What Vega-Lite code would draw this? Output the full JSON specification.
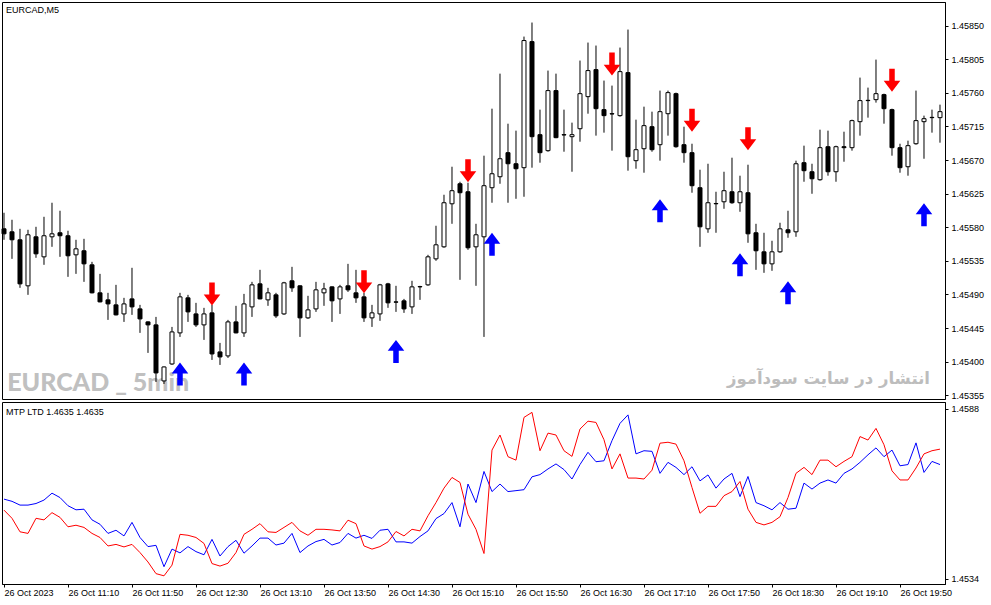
{
  "$schema": "https://vega.github.io/schema/vega-lite/v6.json",
  "background": "#ffffff",
  "padding": {"left": 0, "top": 1, "right": 0, "bottom": 0},
  "spacing": 0,
  "config": {
    "view": {"stroke": "#000000", "strokeWidth": 1},
    "scale": {"continuousPadding": 0},
    "axis": {
      "labelFont": "Liberation Sans", "labelFontSize": 9, "labelColor": "#000000",
      "domainColor": "#000000", "tickColor": "#000000", "grid": false, "title": null,
      "labelFlush": false, "labelOverlap": false
    }
  },
  "datasets": {
    "bars": [
      {"t":"2023-10-26T10:30","o":1.455779,"h":1.455994,"l":1.455632,"c":1.455712,"b":1.45593,"r":1.45558},
      {"t":"2023-10-26T10:35","o":1.455739,"h":1.4559,"l":1.455377,"c":1.455632,"b":1.45586,"r":1.45532},
      {"t":"2023-10-26T10:40","o":1.455632,"h":1.455779,"l":1.454989,"c":1.455042,"b":1.45574,"r":1.45489},
      {"t":"2023-10-26T10:45","o":1.455016,"h":1.455766,"l":1.454895,"c":1.455699,"b":1.45574,"r":1.45484},
      {"t":"2023-10-26T10:50","o":1.455672,"h":1.455806,"l":1.455391,"c":1.455444,"b":1.45579,"r":1.45532},
      {"t":"2023-10-26T10:55","o":1.455404,"h":1.45594,"l":1.455297,"c":1.455686,"b":1.4559,"r":1.45527},
      {"t":"2023-10-26T11:00","o":1.455672,"h":1.456128,"l":1.455538,"c":1.455712,"b":1.45612,"r":1.4555},
      {"t":"2023-10-26T11:05","o":1.455726,"h":1.456021,"l":1.455404,"c":1.455686,"b":1.45598,"r":1.45535},
      {"t":"2023-10-26T11:10","o":1.455686,"h":1.455753,"l":1.455136,"c":1.455418,"b":1.45572,"r":1.45505},
      {"t":"2023-10-26T11:15","o":1.455431,"h":1.455632,"l":1.455176,"c":1.455511,"b":1.45559,"r":1.4551},
      {"t":"2023-10-26T11:20","o":1.455485,"h":1.455645,"l":1.455069,"c":1.45531,"b":1.45561,"r":1.45503},
      {"t":"2023-10-26T11:25","o":1.455297,"h":1.455337,"l":1.454915,"c":1.454922,"b":1.45527,"r":1.45484},
      {"t":"2023-10-26T11:30","o":1.454922,"h":1.455176,"l":1.454795,"c":1.454801,"b":1.45513,"r":1.45471},
      {"t":"2023-10-26T11:35","o":1.454828,"h":1.454922,"l":1.45456,"c":1.454774,"b":1.45484,"r":1.45444},
      {"t":"2023-10-26T11:40","o":1.454761,"h":1.455029,"l":1.45462,"c":1.454627,"b":1.45494,"r":1.45449},
      {"t":"2023-10-26T11:45","o":1.45464,"h":1.454855,"l":1.454533,"c":1.454774,"b":1.45476,"r":1.45441},
      {"t":"2023-10-26T11:50","o":1.454841,"h":1.455257,"l":1.454627,"c":1.454734,"b":1.45519,"r":1.45449},
      {"t":"2023-10-26T11:55","o":1.454707,"h":1.454761,"l":1.454386,"c":1.454573,"b":1.45471,"r":1.45423},
      {"t":"2023-10-26T12:00","o":1.454533,"h":1.45454,"l":1.454118,"c":1.454493,"b":1.45442,"r":1.45393},
      {"t":"2023-10-26T12:05","o":1.454493,"h":1.4546,"l":1.453729,"c":1.45385,"b":1.45446,"r":1.45356},
      {"t":"2023-10-26T12:10","o":1.453743,"h":1.453937,"l":1.453702,"c":1.45393,"b":1.45378,"r":1.45349},
      {"t":"2023-10-26T12:15","o":1.45397,"h":1.454466,"l":1.453957,"c":1.454399,"b":1.45434,"r":1.45383},
      {"t":"2023-10-26T12:20","o":1.454386,"h":1.454922,"l":1.454332,"c":1.454868,"b":1.45422,"r":1.45481},
      {"t":"2023-10-26T12:25","o":1.454855,"h":1.454895,"l":1.454533,"c":1.454667,"b":1.45442,"r":1.45478},
      {"t":"2023-10-26T12:30","o":1.45464,"h":1.454788,"l":1.454466,"c":1.454493,"b":1.45426,"r":1.45471},
      {"t":"2023-10-26T12:35","o":1.454493,"h":1.454721,"l":1.454292,"c":1.45464,"b":1.45416,"r":1.45452},
      {"t":"2023-10-26T12:40","o":1.454654,"h":1.454761,"l":1.454024,"c":1.454104,"b":1.45465,"r":1.45388},
      {"t":"2023-10-26T12:45","o":1.454131,"h":1.454252,"l":1.453957,"c":1.454064,"b":1.45412,"r":1.4538},
      {"t":"2023-10-26T12:50","o":1.454078,"h":1.45456,"l":1.454051,"c":1.454533,"b":1.45442,"r":1.45389},
      {"t":"2023-10-26T12:55","o":1.454533,"h":1.454748,"l":1.45438,"c":1.454386,"b":1.45462,"r":1.45423},
      {"t":"2023-10-26T13:00","o":1.454386,"h":1.454908,"l":1.454332,"c":1.454774,"b":1.45421,"r":1.45481},
      {"t":"2023-10-26T13:05","o":1.454734,"h":1.455069,"l":1.4546,"c":1.455029,"b":1.45444,"r":1.45497},
      {"t":"2023-10-26T13:10","o":1.455042,"h":1.45523,"l":1.454835,"c":1.454841,"b":1.45469,"r":1.45515},
      {"t":"2023-10-26T13:15","o":1.454828,"h":1.454989,"l":1.454748,"c":1.454922,"b":1.45469,"r":1.45489},
      {"t":"2023-10-26T13:20","o":1.454895,"h":1.454922,"l":1.454587,"c":1.454614,"b":1.45447,"r":1.45487},
      {"t":"2023-10-26T13:25","o":1.45464,"h":1.455069,"l":1.454627,"c":1.455056,"b":1.45453,"r":1.45503},
      {"t":"2023-10-26T13:30","o":1.455083,"h":1.45527,"l":1.454935,"c":1.454989,"b":1.45484,"r":1.45519},
      {"t":"2023-10-26T13:35","o":1.455016,"h":1.455022,"l":1.454332,"c":1.454587,"b":1.45423,"r":1.45492},
      {"t":"2023-10-26T13:40","o":1.454587,"h":1.454882,"l":1.454573,"c":1.454694,"b":1.45444,"r":1.45478},
      {"t":"2023-10-26T13:45","o":1.454707,"h":1.455069,"l":1.454667,"c":1.454962,"b":1.45458,"r":1.45497},
      {"t":"2023-10-26T13:50","o":1.454922,"h":1.455056,"l":1.454748,"c":1.454975,"b":1.45465,"r":1.45497},
      {"t":"2023-10-26T13:55","o":1.455002,"h":1.455009,"l":1.454533,"c":1.454815,"b":1.45447,"r":1.45495},
      {"t":"2023-10-26T14:00","o":1.454841,"h":1.455029,"l":1.45464,"c":1.455002,"b":1.45455,"r":1.45492},
      {"t":"2023-10-26T14:05","o":1.455016,"h":1.45531,"l":1.454935,"c":1.454962,"b":1.45484,"r":1.45526},
      {"t":"2023-10-26T14:10","o":1.454922,"h":1.45523,"l":1.454788,"c":1.454855,"b":1.45469,"r":1.45515},
      {"t":"2023-10-26T14:15","o":1.454868,"h":1.454922,"l":1.454533,"c":1.454587,"b":1.45478,"r":1.45444},
      {"t":"2023-10-26T14:20","o":1.454587,"h":1.454761,"l":1.454466,"c":1.454654,"b":1.45468,"r":1.45434},
      {"t":"2023-10-26T14:25","o":1.45464,"h":1.455042,"l":1.454547,"c":1.455029,"b":1.45494,"r":1.45442},
      {"t":"2023-10-26T14:30","o":1.455042,"h":1.455056,"l":1.454721,"c":1.454788,"b":1.45497,"r":1.45457},
      {"t":"2023-10-26T14:35","o":1.454801,"h":1.455016,"l":1.454667,"c":1.454797,"b":1.45457,"r":1.4549},
      {"t":"2023-10-26T14:40","o":1.454815,"h":1.454841,"l":1.454654,"c":1.454707,"b":1.45457,"r":1.45476},
      {"t":"2023-10-26T14:45","o":1.454734,"h":1.455083,"l":1.45464,"c":1.455002,"b":1.45453,"r":1.45497},
      {"t":"2023-10-26T14:50","o":1.455002,"h":1.455016,"l":1.454828,"c":1.455006,"b":1.45474,"r":1.45492},
      {"t":"2023-10-26T14:55","o":1.455029,"h":1.455431,"l":1.455016,"c":1.455404,"b":1.45492,"r":1.4554},
      {"t":"2023-10-26T15:00","o":1.455377,"h":1.45582,"l":1.455351,"c":1.455565,"b":1.45531,"r":1.45582},
      {"t":"2023-10-26T15:05","o":1.455538,"h":1.456235,"l":1.455525,"c":1.456128,"b":1.45547,"r":1.45628},
      {"t":"2023-10-26T15:10","o":1.456114,"h":1.45661,"l":1.455846,"c":1.456289,"b":1.45582,"r":1.45662},
      {"t":"2023-10-26T15:15","o":1.456382,"h":1.456409,"l":1.455096,"c":1.456262,"b":1.45505,"r":1.45646},
      {"t":"2023-10-26T15:20","o":1.456275,"h":1.456396,"l":1.455498,"c":1.455525,"b":1.45641,"r":1.45545},
      {"t":"2023-10-26T15:25","o":1.455538,"h":1.455846,"l":1.455016,"c":1.455699,"b":1.45582,"r":1.45497},
      {"t":"2023-10-26T15:30","o":1.455672,"h":1.456758,"l":1.454332,"c":1.456356,"b":1.45681,"r":1.4542},
      {"t":"2023-10-26T15:35","o":1.456329,"h":1.457387,"l":1.456128,"c":1.456516,"b":1.45617,"r":1.45749},
      {"t":"2023-10-26T15:40","o":1.456476,"h":1.457856,"l":1.456382,"c":1.456717,"b":1.45641,"r":1.45797},
      {"t":"2023-10-26T15:45","o":1.456798,"h":1.457186,"l":1.456128,"c":1.45665,"b":1.45617,"r":1.45728},
      {"t":"2023-10-26T15:50","o":1.45665,"h":1.457093,"l":1.456181,"c":1.456583,"b":1.4562,"r":1.45717},
      {"t":"2023-10-26T15:55","o":1.456597,"h":1.458352,"l":1.456208,"c":1.458299,"b":1.45623,"r":1.45853},
      {"t":"2023-10-26T16:00","o":1.458285,"h":1.45854,"l":1.456597,"c":1.457012,"b":1.45664,"r":1.45869},
      {"t":"2023-10-26T16:05","o":1.457039,"h":1.457374,"l":1.456664,"c":1.456798,"b":1.45671,"r":1.45747},
      {"t":"2023-10-26T16:10","o":1.456825,"h":1.457897,"l":1.456811,"c":1.457629,"b":1.45689,"r":1.45803},
      {"t":"2023-10-26T16:15","o":1.457629,"h":1.457856,"l":1.456992,"c":1.456999,"b":1.45705,"r":1.45797},
      {"t":"2023-10-26T16:20","o":1.457039,"h":1.457374,"l":1.456811,"c":1.457035,"b":1.45687,"r":1.45747},
      {"t":"2023-10-26T16:25","o":1.457012,"h":1.4572,"l":1.456543,"c":1.457039,"b":1.45657,"r":1.45729},
      {"t":"2023-10-26T16:30","o":1.457119,"h":1.458031,"l":1.456945,"c":1.457588,"b":1.45703,"r":1.45816},
      {"t":"2023-10-26T16:35","o":1.457548,"h":1.458272,"l":1.45732,"c":1.457897,"b":1.45742,"r":1.45841},
      {"t":"2023-10-26T16:40","o":1.45791,"h":1.458232,"l":1.457026,"c":1.457387,"b":1.45712,"r":1.45837},
      {"t":"2023-10-26T16:45","o":1.457374,"h":1.457763,"l":1.457066,"c":1.457294,"b":1.45715,"r":1.45782},
      {"t":"2023-10-26T16:50","o":1.45732,"h":1.457696,"l":1.456825,"c":1.457316,"b":1.45779,"r":1.45689},
      {"t":"2023-10-26T16:55","o":1.457294,"h":1.458205,"l":1.45728,"c":1.457883,"b":1.45834,"r":1.45737},
      {"t":"2023-10-26T17:00","o":1.45787,"h":1.458446,"l":1.456557,"c":1.456744,"b":1.45861,"r":1.4566},
      {"t":"2023-10-26T17:05","o":1.456691,"h":1.45724,"l":1.456583,"c":1.456838,"b":1.45737,"r":1.4566},
      {"t":"2023-10-26T17:10","o":1.456851,"h":1.457414,"l":1.45653,"c":1.45716,"b":1.45747,"r":1.45657},
      {"t":"2023-10-26T17:15","o":1.457146,"h":1.457347,"l":1.456811,"c":1.456838,"b":1.45745,"r":1.45685},
      {"t":"2023-10-26T17:20","o":1.456905,"h":1.457629,"l":1.456691,"c":1.457347,"b":1.45675,"r":1.45771},
      {"t":"2023-10-26T17:25","o":1.45732,"h":1.457629,"l":1.457026,"c":1.457602,"b":1.4571,"r":1.45774},
      {"t":"2023-10-26T17:30","o":1.457588,"h":1.457602,"l":1.456865,"c":1.456878,"b":1.45694,"r":1.45768},
      {"t":"2023-10-26T17:35","o":1.456905,"h":1.457146,"l":1.456664,"c":1.456798,"b":1.45671,"r":1.45715},
      {"t":"2023-10-26T17:40","o":1.456798,"h":1.456918,"l":1.456262,"c":1.456356,"b":1.45696,"r":1.4563},
      {"t":"2023-10-26T17:45","o":1.456329,"h":1.45657,"l":1.455538,"c":1.455806,"b":1.45651,"r":1.45548},
      {"t":"2023-10-26T17:50","o":1.455779,"h":1.45665,"l":1.455726,"c":1.456128,"b":1.4567,"r":1.4557},
      {"t":"2023-10-26T17:55","o":1.456114,"h":1.456275,"l":1.455726,"c":1.456118,"b":1.45628,"r":1.4557},
      {"t":"2023-10-26T18:00","o":1.456141,"h":1.456543,"l":1.456047,"c":1.456289,"b":1.45657,"r":1.45604},
      {"t":"2023-10-26T18:05","o":1.456275,"h":1.456731,"l":1.456114,"c":1.456128,"b":1.45675,"r":1.45617},
      {"t":"2023-10-26T18:10","o":1.456128,"h":1.45649,"l":1.456007,"c":1.456275,"b":1.45601,"r":1.45649},
      {"t":"2023-10-26T18:15","o":1.456262,"h":1.456637,"l":1.455592,"c":1.455712,"b":1.45665,"r":1.45561},
      {"t":"2023-10-26T18:20","o":1.455726,"h":1.455846,"l":1.45523,"c":1.455485,"b":1.45582,"r":1.45519},
      {"t":"2023-10-26T18:25","o":1.455471,"h":1.455726,"l":1.45519,"c":1.45531,"b":1.45572,"r":1.45511},
      {"t":"2023-10-26T18:30","o":1.45531,"h":1.455619,"l":1.455217,"c":1.455471,"b":1.45559,"r":1.45519},
      {"t":"2023-10-26T18:35","o":1.455471,"h":1.45586,"l":1.455458,"c":1.455779,"b":1.45582,"r":1.45537},
      {"t":"2023-10-26T18:40","o":1.455766,"h":1.456021,"l":1.455659,"c":1.455726,"b":1.45561,"r":1.45598},
      {"t":"2023-10-26T18:45","o":1.455739,"h":1.456691,"l":1.455672,"c":1.45665,"b":1.45564,"r":1.45675},
      {"t":"2023-10-26T18:50","o":1.456664,"h":1.456892,"l":1.456409,"c":1.456557,"b":1.45644,"r":1.45694},
      {"t":"2023-10-26T18:55","o":1.456543,"h":1.45665,"l":1.456248,"c":1.456449,"b":1.45625,"r":1.45671},
      {"t":"2023-10-26T19:00","o":1.456436,"h":1.457106,"l":1.456423,"c":1.456865,"b":1.45644,"r":1.45717},
      {"t":"2023-10-26T19:05","o":1.456878,"h":1.457093,"l":1.45649,"c":1.456543,"b":1.45654,"r":1.45717},
      {"t":"2023-10-26T19:10","o":1.456543,"h":1.456892,"l":1.456409,"c":1.456878,"b":1.45644,"r":1.45696},
      {"t":"2023-10-26T19:15","o":1.456878,"h":1.457079,"l":1.456677,"c":1.456865,"b":1.45675,"r":1.45713},
      {"t":"2023-10-26T19:20","o":1.456865,"h":1.45724,"l":1.456825,"c":1.457227,"b":1.45689,"r":1.45728},
      {"t":"2023-10-26T19:25","o":1.457213,"h":1.457803,"l":1.457026,"c":1.457495,"b":1.4571,"r":1.45792},
      {"t":"2023-10-26T19:30","o":1.457495,"h":1.457669,"l":1.457267,"c":1.457499,"b":1.45734,"r":1.45781},
      {"t":"2023-10-26T19:35","o":1.457508,"h":1.458044,"l":1.457468,"c":1.457588,"b":1.45756,"r":1.45818},
      {"t":"2023-10-26T19:40","o":1.457575,"h":1.457588,"l":1.457186,"c":1.457387,"b":1.45728,"r":1.45766},
      {"t":"2023-10-26T19:45","o":1.457374,"h":1.457387,"l":1.456758,"c":1.456865,"b":1.45749,"r":1.45683},
      {"t":"2023-10-26T19:50","o":1.456865,"h":1.456918,"l":1.45653,"c":1.456597,"b":1.45699,"r":1.45654},
      {"t":"2023-10-26T19:55","o":1.45661,"h":1.456959,"l":1.45649,"c":1.456892,"b":1.45703,"r":1.45654},
      {"t":"2023-10-26T20:00","o":1.456918,"h":1.457629,"l":1.456905,"c":1.457227,"b":1.45772,"r":1.45692},
      {"t":"2023-10-26T20:05","o":1.457213,"h":1.457294,"l":1.456717,"c":1.457253,"b":1.45678,"r":1.45737},
      {"t":"2023-10-26T20:10","o":1.457267,"h":1.457374,"l":1.457066,"c":1.457271,"b":1.45713,"r":1.45747},
      {"t":"2023-10-26T20:15","o":1.457267,"h":1.457441,"l":1.456932,"c":1.457347,"b":1.45703,"r":1.45752}
    ],
    "signals": [
      {"t":"2023-10-26T12:40","p":1.454908,"d":"down"},
      {"t":"2023-10-26T14:15","p":1.455069,"d":"down"},
      {"t":"2023-10-26T15:20","p":1.456557,"d":"down"},
      {"t":"2023-10-26T16:50","p":1.457984,"d":"down"},
      {"t":"2023-10-26T17:40","p":1.457233,"d":"down"},
      {"t":"2023-10-26T18:15","p":1.456985,"d":"down"},
      {"t":"2023-10-26T19:45","p":1.457769,"d":"down"},
      {"t":"2023-10-26T12:20","p":1.453836,"d":"up"},
      {"t":"2023-10-26T13:00","p":1.453836,"d":"up"},
      {"t":"2023-10-26T14:35","p":1.454138,"d":"up"},
      {"t":"2023-10-26T15:35","p":1.455572,"d":"up"},
      {"t":"2023-10-26T17:20","p":1.456021,"d":"up"},
      {"t":"2023-10-26T18:10","p":1.455297,"d":"up"},
      {"t":"2023-10-26T18:40","p":1.454922,"d":"up"},
      {"t":"2023-10-26T20:05","p":1.455967,"d":"up"}
    ]
  },
  "vconcat": [
    {
      "width": 943,
      "height": 397,
      "layer": [
        {
          "data": {"values": [{"s": "EURCAD _ 5min"}]},
          "mark": {"type": "text", "font": "Lato", "fontWeight": 900, "fontSize": 25, "color": "#c0c0c0", "align": "left", "baseline": "alphabetic"},
          "encoding": {
            "x": {"datum": {"year": 2023, "month": 10, "date": 26, "hours": 10, "minutes": 32, "seconds": 0}, "type": "temporal", "scale": {"domain": [{"year": 2023, "month": 10, "date": 26, "hours": 10, "minutes": 28, "seconds": 45}, {"year": 2023, "month": 10, "date": 26, "hours": 20, "minutes": 18, "seconds": 8}], "nice": false, "padding": 0}, "axis": null},
            "y": {"datum": 1.453609, "type": "quantitative", "scale": {"domain": [1.453501, 1.458815], "nice": false, "zero": false, "padding": 0}, "axis": {"orient": "right", "values": [1.45355, 1.454, 1.45445, 1.4549, 1.45535, 1.4558, 1.45625, 1.4567, 1.45715, 1.4576, 1.45805, 1.4585], "tickCount": 20, "format": ".5f", "tickSize": 3, "labelPadding": 3, "labelOverlap": false, "labelBound": false}},
            "text": {"field": "s"}
          }
        },
        {
          "data": {"values": [{"s": "انتشار در سایت سودآموز"}]},
          "mark": {"type": "text", "font": "DejaVu Sans", "fontWeight": "bold", "fontSize": 16.5, "color": "#bdbdbd", "align": "right", "baseline": "middle"},
          "encoding": {
            "x": {"datum": {"year": 2023, "month": 10, "date": 26, "hours": 20, "minutes": 8, "seconds": 45}, "type": "temporal"},
            "y": {"datum": 1.453769, "type": "quantitative"},
            "text": {"field": "s"}
          }
        },
        {
          "data": {"name": "bars"},
          "mark": {"type": "rule", "color": "#000000", "strokeWidth": 1},
          "encoding": {
            "x": {"field": "t", "type": "temporal"},
            "y": {"field": "l", "type": "quantitative"},
            "y2": {"field": "h"}
          }
        },
        {
          "data": {"name": "bars"},
          "mark": {"type": "bar", "width": 4, "stroke": "#000000", "strokeWidth": 1},
          "encoding": {
            "x": {"field": "t", "type": "temporal"},
            "y": {"field": "o", "type": "quantitative"},
            "y2": {"field": "c"},
            "fill": {"condition": {"test": "datum.c > datum.o", "value": "#ffffff"}, "value": "#000000"}
          }
        },
        {
          "data": {"name": "signals"},
          "mark": {"type": "point", "filled": true, "size": 529, "opacity": 1, "strokeWidth": 0},
          "encoding": {
            "x": {"field": "t", "type": "temporal"},
            "y": {"field": "p", "type": "quantitative"},
            "shape": {"field": "d", "type": "nominal", "scale": {"domain": ["down", "up"], "range": ["M0,1L0.72,0.05L0.24,0.05L0.24,-1L-0.24,-1L-0.24,0.05L-0.72,0.05Z", "M0,-1L0.72,-0.05L0.24,-0.05L0.24,1L-0.24,1L-0.24,-0.05L-0.72,-0.05Z"]}, "legend": null},
            "color": {"field": "d", "type": "nominal", "scale": {"domain": ["down", "up"], "range": ["#ff0000", "#0000ff"]}, "legend": null}
          }
        },
        {
          "data": {"values": [{"s": "EURCAD,M5"}]},
          "mark": {"type": "text", "font": "Liberation Sans", "fontSize": 9, "color": "#000000", "align": "left", "baseline": "middle"},
          "encoding": {
            "x": {"datum": {"year": 2023, "month": 10, "date": 26, "hours": 10, "minutes": 31, "seconds": 15}, "type": "temporal"},
            "y": {"datum": 1.458714, "type": "quantitative"},
            "text": {"field": "s"}
          }
        }
      ]
    },
    {
      "width": 943,
      "height": 182,
      "data": {"name": "bars"},
      "layer": [
        {
          "mark": {"type": "line", "color": "#0000ff", "strokeWidth": 1},
          "encoding": {
            "x": {
              "field": "t", "type": "temporal",
              "scale": {"domain": [{"year": 2023, "month": 10, "date": 26, "hours": 10, "minutes": 28, "seconds": 45}, {"year": 2023, "month": 10, "date": 26, "hours": 20, "minutes": 18, "seconds": 8}], "nice": false, "padding": 0},
              "axis": {
                "values": [
                  {"year": 2023, "month": 10, "date": 26, "hours": 10, "minutes": 30},
                  {"year": 2023, "month": 10, "date": 26, "hours": 11, "minutes": 10},
                  {"year": 2023, "month": 10, "date": 26, "hours": 11, "minutes": 50},
                  {"year": 2023, "month": 10, "date": 26, "hours": 12, "minutes": 30},
                  {"year": 2023, "month": 10, "date": 26, "hours": 13, "minutes": 10},
                  {"year": 2023, "month": 10, "date": 26, "hours": 13, "minutes": 50},
                  {"year": 2023, "month": 10, "date": 26, "hours": 14, "minutes": 30},
                  {"year": 2023, "month": 10, "date": 26, "hours": 15, "minutes": 10},
                  {"year": 2023, "month": 10, "date": 26, "hours": 15, "minutes": 50},
                  {"year": 2023, "month": 10, "date": 26, "hours": 16, "minutes": 30},
                  {"year": 2023, "month": 10, "date": 26, "hours": 17, "minutes": 10},
                  {"year": 2023, "month": 10, "date": 26, "hours": 17, "minutes": 50},
                  {"year": 2023, "month": 10, "date": 26, "hours": 18, "minutes": 30},
                  {"year": 2023, "month": 10, "date": 26, "hours": 19, "minutes": 10},
                  {"year": 2023, "month": 10, "date": 26, "hours": 19, "minutes": 50}
                ],
                "tickCount": 30,
                "labelExpr": "hours(datum.value) == 10 && minutes(datum.value) == 30 ? '26 Oct 2023' : timeFormat(datum.value, '%d %b %H:%M')",
                "labelAlign": "left", "labelBaseline": "top", "tickSize": 3, "labelPadding": 1, "labelOverlap": false
              }
            },
            "y": {"field": "b", "type": "quantitative", "scale": {"domain": [1.45323, 1.45902], "nice": false, "zero": false, "padding": 0}, "axis": {"orient": "right", "values": [1.4534, 1.4588], "format": ".4f", "tickSize": 3, "labelPadding": 3, "labelOverlap": false}}
          }
        },
        {
          "mark": {"type": "line", "color": "#ff0000", "strokeWidth": 1},
          "encoding": {
            "x": {"field": "t", "type": "temporal"},
            "y": {"field": "r", "type": "quantitative"}
          }
        },
        {
          "data": {"values": [{"s": "MTP LTD 1.4635 1.4635"}]},
          "mark": {"type": "text", "font": "Liberation Sans", "fontSize": 9, "color": "#000000", "align": "left", "baseline": "middle"},
          "encoding": {
            "x": {"datum": {"year": 2023, "month": 10, "date": 26, "hours": 10, "minutes": 31, "seconds": 15}, "type": "temporal"},
            "y": {"datum": 1.458714, "type": "quantitative"},
            "text": {"field": "s"}
          }
        }
      ]
    }
  ]
}
